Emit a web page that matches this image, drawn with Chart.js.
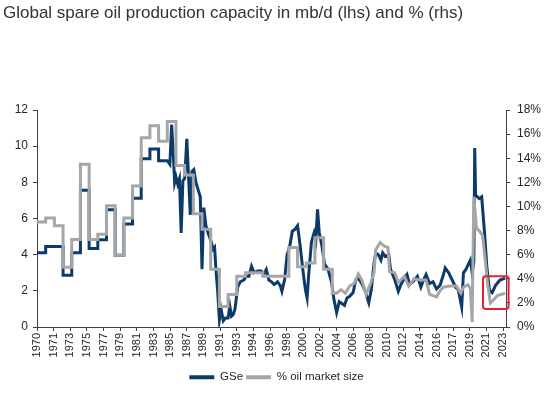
<!DOCTYPE html>
<html><head><meta charset="utf-8">
<script src="https://cdn.jsdelivr.net/npm/chart.js@4/dist/chart.umd.min.js"></script>
<style>html,body{margin:0;padding:0;background:#fff}</style>
</head><body>
<canvas id="c" width="550" height="393"></canvas>
<script>
// ---- Data ----
const tickLabels = ["1970","1971","1973","1975","1977","1979","1981","1983","1985","1987","1989","1991","1993","1994","1996","1998","2000","2002","2004","2006","2008","2010","2012","2014","2016","2017","2019","2021","2023"];

// GSe spare capacity (mb/d, lhs) – annual values 1970..1984
const gseAnnualStart = 1970;
const gseAnnual = [4.1,4.45,4.45,2.86,4.1,7.56,4.34,4.83,6.49,3.97,5.7,7.12,9.3,9.85,9.2];
// GSe – later observations (year, value)
const gseYears = [1985.0,1985.3,1985.5,1985.7,1985.85,1986.0,1986.2,1986.4,1986.6,1986.8,1987.0,1987.25,1987.45,1987.65,1987.85,1988.05,1988.3,1988.55,1988.8,1989.0,1989.2,1989.45,1989.7,1990.0,1990.3,1990.45,1990.6,1990.8,1991.0,1991.2,1991.45,1991.7,1992.0,1992.2,1992.4,1992.6,1992.8,1993.1,1993.4,1993.8,1994.1,1994.4,1994.7,1995.0,1995.4,1995.8,1996.1,1996.4,1996.7,1997.0,1997.3,1997.7,1998.0,1998.2,1998.5,1998.8,1999.1,1999.4,1999.7,2000.0,2000.3,2000.6,2000.9,2001.1,2001.3,2001.6,2001.9,2002.1,2002.3,2002.5,2002.8,2003.1,2003.5,2003.9,2004.2,2004.5,2004.8,2005.1,2005.4,2005.7,2006.0,2006.4,2006.7,2007.0,2007.4,2007.8,2008.2,2008.5,2008.8,2009.0,2009.3,2009.6,2009.8,2010.1,2010.5,2010.7,2011.2,2011.6,2011.9,2012.3,2012.6,2012.9,2013.3,2013.8,2014.2,2014.5,2014.8,2015.2,2015.6,2016.0,2016.4,2016.8,2017.0,2017.4,2017.8,2018.2,2018.5,2018.9,2019.1,2019.4,2019.7,2019.9,2020.1,2020.3,2020.4,2020.5,2020.9,2021.2,2021.5,2021.8,2022.1,2022.4,2022.8,2023.3,2023.9];
const gseValues = [9.2,9.0,11.2,9.5,8.0,8.3,7.9,8.2,5.2,8.1,8.2,10.4,8.3,6.2,8.6,8.7,8.0,7.6,7.2,3.2,6.6,5.6,5.2,4.8,4.3,4.4,3.2,2.0,0.4,0.97,0.35,0.5,0.5,1.15,0.6,0.7,1.0,2.2,2.5,2.6,2.8,2.8,3.36,3.0,3.1,3.1,2.9,3.18,2.6,2.5,2.35,2.5,2.3,1.97,2.6,4.0,4.46,5.3,5.4,5.6,4.5,3.2,2.07,1.6,3.0,4.7,5.2,4.8,6.5,5.2,4.5,3.5,3.2,2.5,1.5,0.8,1.4,1.3,1.2,1.6,1.7,1.9,2.6,2.7,2.4,1.97,1.34,2.1,3.5,4.1,4.0,3.7,4.1,3.9,4.0,3.2,2.6,1.97,2.35,2.7,2.9,2.35,2.5,2.8,2.2,2.6,2.9,2.4,2.5,2.1,2.3,2.9,3.27,3.0,2.6,2.2,2.07,1.1,3.0,3.2,3.5,3.7,3.0,3.6,9.9,7.3,7.1,7.2,5.4,3.3,2.0,1.9,2.3,2.6,2.7];

// % of oil market size (rhs) – annual values 1970..2003
const pctAnnualStart = 1970;
const pctAnnual = [8.7,9.05,8.4,4.96,7.25,13.5,7.25,7.7,10.05,5.95,9.05,11.7,15.7,16.7,15.4,17.05,13.4,12.6,9.4,8.1,4.8,1.7,2.7,4.2,4.5,4.5,4.2,4.2,4.2,6.6,5.0,5.3,7.4,4.8];
// % – later observations (year, value)
const pctYears = [2004.0,2004.5,2005.0,2005.5,2006.0,2006.5,2007.0,2007.4,2007.9,2008.4,2008.8,2009.0,2009.5,2010.0,2010.4,2010.6,2011.2,2011.6,2012.3,2012.8,2013.4,2014.2,2014.8,2015.2,2016.0,2016.4,2016.8,2017.5,2018.3,2018.8,2019.1,2019.6,2019.9,2020.1,2020.3,2020.6,2021.0,2021.3,2021.6,2021.9,2022.2,2022.5,2023.0,2023.9];
const pctValues = [2.8,2.8,3.1,2.8,3.4,3.6,4.4,3.9,2.7,3.6,4.5,6.4,7.0,6.7,6.6,4.6,4.5,3.7,4.2,3.4,4.0,3.9,3.9,2.7,2.5,3.0,3.3,3.4,3.4,2.8,3.3,3.5,3.2,0.4,10.8,8.2,7.9,7.6,5.6,3.5,2.0,2.2,2.6,2.8];

// highlighted region (years / % on rhs)
const highlightYears = [2021.35, 2024.3];
const highlightPct = [1.5, 4.2];

// ---- build point lists ----
function buildSeries(start, annual, yrs, vals) {
  const pts = [];
  annual.forEach((v, i) => { pts.push({x: start + i, y: v}); pts.push({x: start + i + 1, y: v}); });
  yrs.forEach((y, i) => pts.push({x: y, y: vals[i]}));
  return pts;
}
const tickValues = tickLabels.map((_, k) => 1970 + k * 23 / 12);

const NAVY = '#0b3a6b', GREY = '#a6a6a6', AXIS = '#404040', TXT = '#262626';
const FONT = "'Liberation Sans', Arial, sans-serif";

const highlightPlugin = {
  id: 'highlight',
  afterDatasetsDraw(chart) {
    const x = chart.scales.x, y = chart.scales.y1, ctx = chart.ctx;
    const x0 = x.getPixelForValue(highlightYears[0]), x1 = x.getPixelForValue(highlightYears[1]);
    const y0 = y.getPixelForValue(highlightPct[1]), y1 = y.getPixelForValue(highlightPct[0]);
    ctx.save();
    ctx.strokeStyle = '#e3212b'; ctx.lineWidth = 2;
    ctx.beginPath();
    if (ctx.roundRect) ctx.roundRect(x0, y0, x1 - x0, y1 - y0, 3); else ctx.rect(x0, y0, x1 - x0, y1 - y0);
    ctx.stroke();
    ctx.restore();
  }
};

new Chart(document.getElementById('c'), {
  type: 'line',
  data: {
    datasets: [
      { label: 'GSe', data: buildSeries(gseAnnualStart, gseAnnual, gseYears, gseValues), yAxisID: 'y',
        borderColor: NAVY, backgroundColor: NAVY, borderWidth: 3, pointRadius: 0, tension: 0, order: 1 },
      { label: '% oil market size', data: buildSeries(pctAnnualStart, pctAnnual, pctYears, pctValues), yAxisID: 'y1',
        borderColor: GREY, backgroundColor: GREY, borderWidth: 3, pointRadius: 0, tension: 0, order: 0 }
    ]
  },
  options: {
    responsive: false, animation: false,
    layout: { padding: { left: 3, right: 0, top: 0, bottom: 0 } },
    plugins: {
      tooltip: { enabled: false },
      title: { display: true, text: 'Global spare oil production capacity in mb/d (lhs) and % (rhs)', align: 'start',
        color: '#333', font: { family: "'Liberation Sans Narrow', 'Arial Narrow', sans-serif", size: 17, weight: 'normal', lineHeight: 1.2 },
        padding: { top: 3, bottom: 86.6 } },
      legend: { position: 'bottom',
        labels: { boxWidth: 25, boxHeight: 4, padding: 3, color: TXT, font: { family: FONT, size: 11.5 },
          sort: (a, b) => a.datasetIndex - b.datasetIndex,
          generateLabels(chart) {
            const items = Chart.defaults.plugins.legend.labels.generateLabels(chart);
            items.forEach(i => { i.lineWidth = 0; i.fillStyle = i.strokeStyle; });
            return items;
          } } }
    },
    scales: {
      x: { type: 'linear', min: 1970, max: 2024,
        afterBuildTicks: s => { s.ticks = tickValues.map(v => ({ value: v })); },
        afterFit: s => { s.height = 393 - 327 - (s.chart.legend ? s.chart.legend.height : 20); },
        ticks: { autoSkip: false, maxRotation: 90, minRotation: 90, padding: 2, color: TXT, font: { family: FONT, size: 11 },
          callback: (v, i) => tickLabels[i] },
        grid: { display: true, drawOnChartArea: false, drawTicks: true, tickLength: 4, color: AXIS },
        border: { display: true, color: AXIS, width: 1 } },
      y: { position: 'left', min: 0, max: 12,
        afterFit: s => { s.width = 34; },
        ticks: { stepSize: 2, padding: 5, color: TXT, font: { family: FONT, size: 12 } },
        grid: { display: true, drawOnChartArea: false, drawTicks: true, tickLength: 4, color: AXIS },
        border: { display: true, color: AXIS, width: 1 } },
      y1: { position: 'right', min: 0, max: 18,
        afterFit: s => { s.width = 44; },
        ticks: { stepSize: 2, padding: 7, color: TXT, font: { family: FONT, size: 12 }, callback: v => v + '%' },
        grid: { display: true, drawOnChartArea: false, drawTicks: true, tickLength: 4, color: AXIS },
        border: { display: true, color: AXIS, width: 1 } }
    }
  },
  plugins: [highlightPlugin]
});
</script>
</body></html>
